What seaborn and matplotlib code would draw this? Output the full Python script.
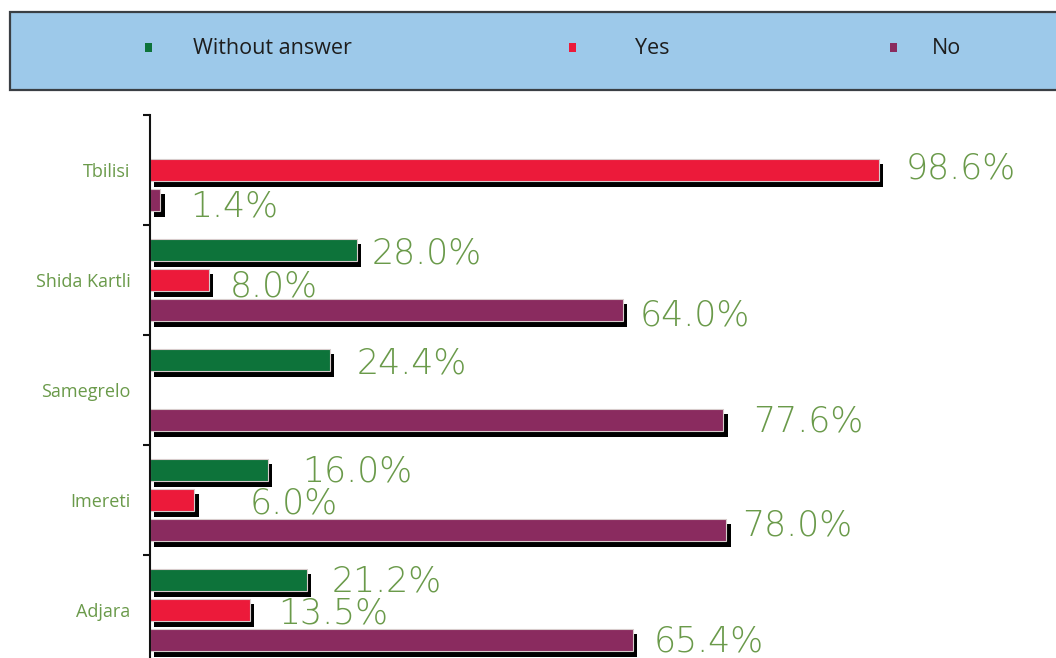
import matplotlib
matplotlib.use("Agg")
import matplotlib.pyplot as plt
import matplotlib.patheffects as pe
from matplotlib.patches import Rectangle
import seaborn as sns
import pandas as pd

# ---- data ----
regions = ["Tbilisi", "Shida Kartli", "Samegrelo", "Imereti", "Adjara"]
series = ["Without answer", "Yes", "No"]
without_answer = [None, 28.0, 24.4, 16.0, 21.2]
yes = [98.6, 8.0, None, 6.0, 13.5]
no = [1.4, 64.0, 77.6, 78.0, 65.4]

# ---- styles ----
colors = {"Without answer": "#0D733A", "Yes": "#EC1A3A", "No": "#8A2B5F"}
label_green = "#6A9A4A"
# per-label nudges (pixels): (dx, dy)
label_nudge = {
    ("Tbilisi", "Yes"): (27, 5), ("Tbilisi", "No"): (30, -3),
    ("Shida Kartli", "Without answer"): (15, 0), ("Shida Kartli", "Yes"): (21, -3),
    ("Shida Kartli", "No"): (17, -2),
    ("Samegrelo", "Without answer"): (26, 0), ("Samegrelo", "No"): (30, 2),
    ("Imereti", "Without answer"): (34, 2), ("Imereti", "Yes"): (55, 0),
    ("Imereti", "No"): (16, 8),
    ("Adjara", "Without answer"): (25, 2), ("Adjara", "Yes"): (28, 0),
    ("Adjara", "No"): (20, 2),
}

rows = []
for s, vals in zip(series, [without_answer, yes, no]):
    for r, v in zip(regions, vals):
        if v is not None:
            rows.append({"region": r, "series": s, "value": v})
df = pd.DataFrame(rows)

sns.set_theme(style="white")
plt.rcParams["font.family"] = ["DejaVu Sans"]

fig = plt.figure(figsize=(10.56, 6.58), dpi=100)
W, H = 1056, 658
ax = fig.add_axes([150 / W, (H - 665) / H, (W - 150) / W, 550 / H])

sns.barplot(data=df, y="region", x="value", hue="series", order=regions,
            hue_order=series, palette=colors, saturation=1, orient="h",
            width=0.82, gap=0.25, legend=False, ax=ax,
            edgecolor="#d8cccc", linewidth=0.8)

shadow = [pe.SimplePatchShadow(offset=(3, -4), shadow_rgbFace="black", alpha=1.0),
          pe.Normal()]
for p in ax.patches:
    p.set_path_effects(shadow)

ax.set_xlim(0, (W - 150) / 7.39)
ax.set_ylim(4.5, -0.5)
ax.set_xlabel("")
ax.set_ylabel("")
ax.set_xticks([])
for side in ["top", "right", "bottom"]:
    ax.spines[side].set_visible(False)
ax.spines["left"].set_color("#111111")
ax.spines["left"].set_linewidth(1.5)

ax.set_yticks(range(len(regions)))
ax.set_yticklabels(regions, fontfamily="Open Sans", fontsize=13, color=label_green)
ax.tick_params(axis="y", which="major", length=0, pad=14)
ax.set_yticks([i - 0.5 for i in range(len(regions) + 1)], minor=True)
ax.tick_params(axis="y", which="minor", length=5, width=1.5, color="#111111",
               direction="out", left=True)

# value labels
for cont, s in zip(ax.containers, series):
    sub = df[df["series"] == s]
    for bar, r, v in zip(cont, sub["region"], sub["value"]):
        dx, dy = label_nudge.get((r, s), (20, 0))
        ax.annotate(f"{v:.1f}%", xy=(bar.get_width(), bar.get_y() + bar.get_height() / 2),
                    xytext=(dx, dy), textcoords="offset pixels", ha="left",
                    va="center_baseline", fontsize=25, color=label_green,
                    fontweight="light", annotation_clip=False)

# legend box
fig.patches.append(Rectangle((10 / W, (H - 90) / H), 1.0, 78 / H, transform=fig.transFigure,
                             facecolor="#9DC9EA", edgecolor="#3A3F44", linewidth=1.6,
                             zorder=0))
leg_pos = [(148, 193), (572, 635), (893, 932)]
for s, (mx, tx) in zip(series, leg_pos):
    fig.patches.append(Rectangle(((mx - 3) / W, (H - 52) / H), 7 / W, 9 / H,
                                 transform=fig.transFigure, facecolor=colors[s],
                                 edgecolor="none", zorder=2))
    fig.text(tx / W, (H - 49) / H, s, ha="left", va="center", fontsize=15.5,
             fontfamily="Open Sans", fontweight="normal", color="#1E1E1E")

fig.savefig("out.png", dpi=100)
